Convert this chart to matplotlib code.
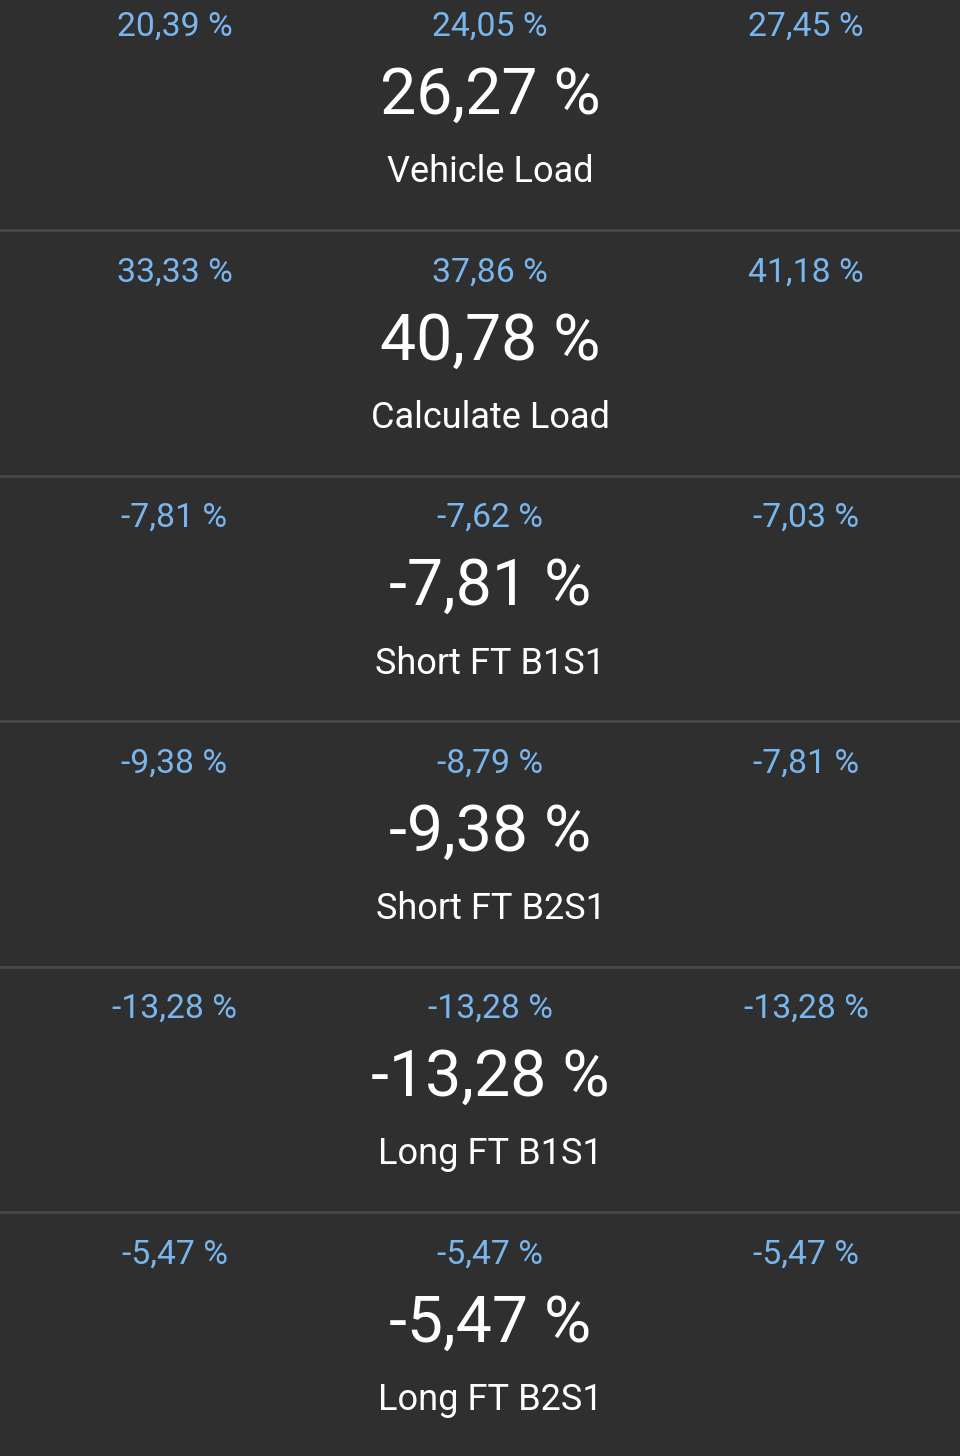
import matplotlib
matplotlib.use("Agg")
import matplotlib.pyplot as plt

names = ["Vehicle Load", "Calculate Load", "Short FT B1S1", "Short FT B2S1", "Long FT B1S1", "Long FT B2S1"]
current = ["26,27 %", "40,78 %", "-7,81 %", "-9,38 %", "-13,28 %", "-5,47 %"]
low = ["20,39 %", "33,33 %", "-7,81 %", "-9,38 %", "-13,28 %", "-5,47 %"]
avg = ["24,05 %", "37,86 %", "-7,62 %", "-8,79 %", "-13,28 %", "-5,47 %"]
high = ["27,45 %", "41,18 %", "-7,03 %", "-7,81 %", "-13,28 %", "-5,47 %"]

bg = "#2f2f2f"
blue = "#7ab6ee"
white = "#ffffff"
line = "#484848"

plt.rcParams['font.family'] = ['Roboto', 'DejaVu Sans']

fig = plt.figure(figsize=(9.6, 14.56), dpi=100, facecolor=bg)
ax = fig.add_axes([0, 0, 1, 1])
ax.set_xlim(0, 960)
ax.set_ylim(1456, 0)
ax.axis("off")

row_h = 245.5
for i in range(6):
    off = i * row_h
    # min / avg / max row
    ax.text(174.5, 27 + off, low[i], color=blue, fontsize=24.3, ha="center", va="center")
    ax.text(490, 27 + off, avg[i], color=blue, fontsize=24.3, ha="center", va="center")
    ax.text(806, 27 + off, high[i], color=blue, fontsize=24.3, ha="center", va="center")
    ax.text(490.5, 96 + off, current[i], color=white, fontsize=46.4, ha="center", va="center")
    ax.text(490.5, 172.5 + off, names[i], color=white, fontsize=26, ha="center", va="center")
    if i < 5:
        ax.axhline(230 + off, color=line, lw=2)

fig.savefig("out.png", dpi=100, facecolor=bg)
